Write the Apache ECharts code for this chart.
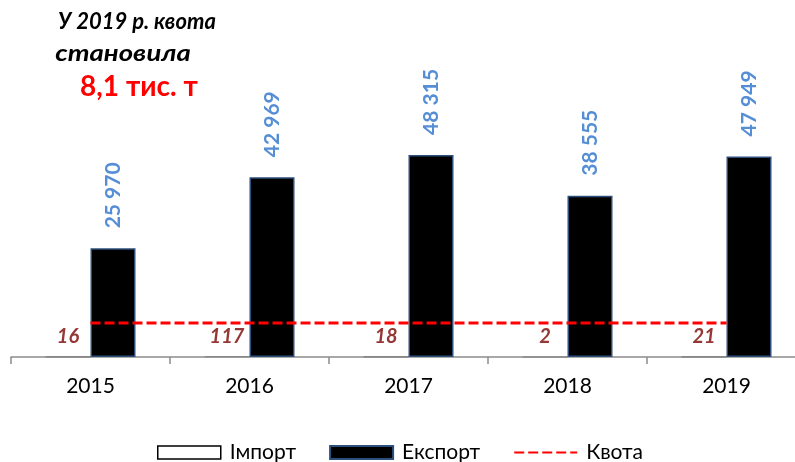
<!DOCTYPE html>
<html><head><meta charset="utf-8">
<script src="https://cdn.jsdelivr.net/npm/echarts@6/dist/echarts.min.js"></script>
<style>html,body{margin:0;padding:0;background:#fff;overflow:hidden}#c{width:806px;height:462px}</style>
</head><body><div id="c"></div>
<script>
const categories = ['2015','2016','2017','2018','2019'];
const importValues = [16, 117, 18, 2, 21];
const exportValues = [25970, 42969, 48315, 38555, 47949];
const quotaValues = [8100, 8100, 8100, 8100, 8100];
const FONT = 'Lato, "Open Sans", sans-serif';
function fmt(v){ return String(v).replace(/\B(?=(\d{3})+(?!\d))/g, ' '); }
const chart = echarts.init(document.getElementById('c'), null, {renderer:'canvas'});
chart.setOption({
  animation:false,
  textStyle:{fontFamily:FONT},
  grid:{left:11, right:0, top:106, height:251},
  xAxis:{type:'category', data:categories,
    axisLine:{lineStyle:{color:'#8c8c8c', width:1.5}},
    axisTick:{show:true, length:7, lineStyle:{color:'#8c8c8c', width:1.5}},
    axisLabel:{color:'#000', fontSize:21, margin:19, fontFamily:FONT}},
  yAxis:{type:'value', min:0, max:60000, show:false, splitLine:{show:false}},
  legend:{top:437, left:152, itemWidth:63, itemHeight:13, itemGap:33,
    textStyle:{fontSize:21, color:'#000', fontFamily:FONT, padding:[0,0,0,4]},
    data:[{name:'Імпорт', icon:'rect', itemStyle:{color:'#fff', borderColor:'#000', borderWidth:1.5}},
          {name:'Експорт', icon:'rect'},
          {name:'Квота', itemStyle:{opacity:0}}]},
  series:[
    {name:'Імпорт', type:'bar', data:importValues, barWidth:45, barGap:'0%',
      itemStyle:{color:'#fff', borderColor:'#7f7f7f', borderWidth:1.2},
      label:{show:true, position:'top', distance:10, color:'#953735', fontSize:20,
        fontWeight:'bold', fontStyle:'italic', fontFamily:FONT}},
    {name:'Експорт', type:'bar', data:exportValues, barWidth:45,
      itemStyle:{color:'#000', borderColor:'#2c4f7c', borderWidth:1.5},
      label:{show:true, position:'top', rotate:90, align:'left', verticalAlign:'middle',
        distance:20, color:'#558ed5', fontSize:21, fontWeight:'bold', fontFamily:FONT,
        formatter:p=>fmt(p.value)}},
    {name:'Квота', type:'line', data:quotaValues, symbol:'none', z:5,
      lineStyle:{color:'#ff0000', width:3, type:[10,4]}, itemStyle:{color:'#ff0000'}}
  ],
  graphic:[
    {type:'text', x:137, y:22, style:{text:'У 2019 р. квота', font:'italic bold 22px '+FONT, fill:'#000', align:'center', verticalAlign:'middle'}},
    {type:'text', x:123, y:54, scaleX:1.25, style:{text:'становила', font:'italic bold 22px '+FONT, fill:'#000', align:'center', verticalAlign:'middle'}},
    {type:'text', x:139, y:87, style:{text:'8,1 тис. т', font:'bold 28px '+FONT, fill:'#ff0000', align:'center', verticalAlign:'middle'}}
  ]
});
</script></body></html>
